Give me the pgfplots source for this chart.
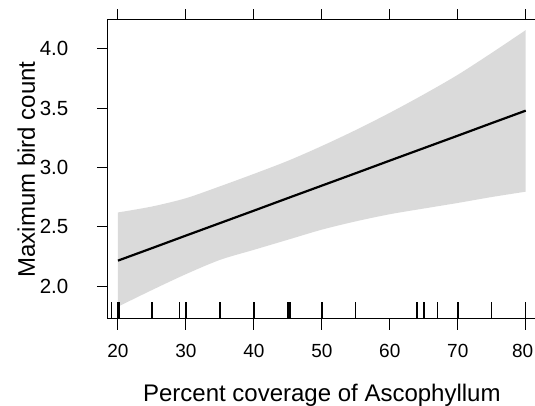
\documentclass[border=0pt]{standalone}
\usepackage{fontspec}
\setmainfont{Liberation Sans}
\usepackage{pgfplots}
\pgfplotsset{compat=1.18}
\usepgfplotslibrary{fillbetween}

\definecolor{bandgray}{RGB}{218,218,218}

% effect of Ascophyllum cover on max bird count: fit and 95% band
\pgfplotstableread{
x    fit    lo     up
20   2.214  1.826  2.620
25   2.319  1.966  2.670
30   2.425  2.100  2.740
35   2.530  2.220  2.840
40   2.635  2.305  2.945
45   2.741  2.390  3.055
50   2.846  2.475  3.180
55   2.951  2.545  3.315
60   3.057  2.605  3.460
65   3.162  2.653  3.615
70   3.267  2.700  3.780
75   3.373  2.750  3.965
80   3.478  2.795  4.157
}\fitdata

\begin{document}
\begin{tikzpicture}
\begin{axis}[
    scale only axis,
    width=429.1pt, height=299pt,
    xmin=18.43, xmax=81.57,
    ymin=1.722, ymax=4.242,
    xtick={20,30,...,80},
    xticklabels={20,30,40,50,60,70,{\hspace*{-6pt}80}},
    ytick={2.0,2.5,...,4.0},
    xtick pos=both, xticklabel pos=lower,
    ytick pos=left,
    tick align=outside,
    major tick length=10.5pt,
    every tick/.style={black, line width=1pt},
    axis line style={black, line width=1pt},
    /pgf/number format/assume math mode=true,
    yticklabel style={font=\fontsize{20.5}{21}\selectfont},
    xticklabel style={font=\fontsize{19}{20}\selectfont},
    every y tick label/.append style={xshift=-25pt},
    yticklabel style={/pgf/number format/.cd, fixed, fixed zerofill, precision=1},
    every x tick label/.append style={yshift=-11pt},
    xlabel={Percent coverage of Ascophyllum},
    ylabel={Maximum bird count},
    every axis x label/.style={at={(axis description cs:0.5,-0.2766)}, anchor=base,
        font=\fontsize{24}{26}\selectfont},
    every axis y label/.style={at={(axis description cs:-0.1685,0.5)}, rotate=90, anchor=base,
        font=\fontsize{24}{26}\selectfont},
]
\addplot[name path=up, draw=none, smooth] table[x=x, y=up] {\fitdata};
\addplot[name path=lo, draw=none, smooth] table[x=x, y=lo] {\fitdata};
\addplot[bandgray] fill between[of=up and lo];
\addplot[black, line width=2.2pt] table[x=x, y=fit] {\fitdata};
% rug of observed cover values
\addplot[ycomb, black, line width=1.2pt, mark=none] coordinates {
  (19,1.864) (20,1.864) (20.2,1.864) (25,1.864) (29,1.864) (30,1.864)
  (30.1,1.864) (35,1.864) (40,1.864) (40.1,1.864) (45,1.864) (45.15,1.864)
  (45.3,1.864) (50,1.864) (50.1,1.864) (55,1.864) (64,1.864) (65,1.864)
  (65.1,1.864) (67,1.864) (70,1.864) (70.1,1.864) (75,1.864) (80,1.864)
};
\end{axis}
\pgfresetboundingbox
\path (current axis.south west) ++(-107.3pt,-87pt) coordinate (bl);
\path (current axis.north west) ++(427.7pt,20pt) coordinate (tr);
\path (bl) rectangle (tr);
\end{tikzpicture}
\end{document}
